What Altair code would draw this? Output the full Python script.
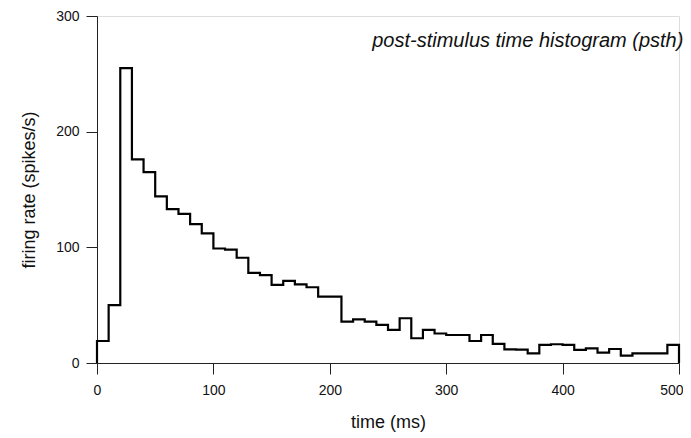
import altair as alt
import pandas as pd

# bin left edges (ms) and firing rates (spikes/s)
bin_start = [0, 10, 20, 30, 40, 50, 60, 70, 80, 90,
             100, 110, 120, 130, 140, 150, 160, 170, 180, 190,
             200, 210, 220, 230, 240, 250, 260, 270, 280, 290,
             300, 310, 320, 330, 340, 350, 360, 370, 380, 390,
             400, 410, 420, 430, 440, 450, 460, 470, 480, 490]
rate = [19, 50, 255, 176, 165, 144, 133, 129, 120, 112,
        99, 98, 91, 78, 76, 67.5, 71, 68, 65.5, 57.4,
        57.4, 35.8, 37.8, 35.8, 32.9, 28.6, 38.7, 21.4, 28.6, 25.5,
        24.2, 24.2, 19, 24.2, 16.5, 11.8, 11.5, 8.4, 15.6, 16.2,
        15.6, 11.3, 12.7, 8.9, 12.1, 6.3, 8.4, 8.4, 8.4, 15.6]
end_time = 500

x_ticks = [0, 100, 200, 300, 400, 500]
y_ticks = [0, 100, 200, 300]

# step outline: start at baseline, bins, close at the end
times = [bin_start[0]] + bin_start + [end_time, end_time]
values = [0] + rate + [rate[-1], 0]
df = pd.DataFrame({"t": times, "r": values, "o": list(range(len(times)))})

FONT = "Liberation Sans"

line = alt.Chart(df).mark_line(
    interpolate="step-after", color="#000000", strokeWidth=2.2
).encode(
    x=alt.X("t:Q", scale=alt.Scale(domain=[0, 500], nice=False),
            axis=alt.Axis(values=x_ticks, title="time (ms)", grid=False,
                          tickSize=11, labelPadding=9, labelFontSize=14,
                          labelFont=FONT, labelColor="#111111",
                          labelFlush=True, labelFlushOffset=4,
                          titleFont=FONT, titleFontSize=18, titleFontWeight="normal",
                          titleColor="#111111", titlePadding=16,
                          domainColor="#222222", tickColor="#222222")),
    y=alt.Y("r:Q", scale=alt.Scale(domain=[0, 300], nice=False),
            axis=alt.Axis(values=y_ticks, title="firing rate (spikes/s)", grid=False,
                          tickSize=11, labelPadding=7, labelFontSize=14,
                          labelFont=FONT, labelColor="#111111",
                          titleFont=FONT, titleFontSize=18, titleFontWeight="normal",
                          titleColor="#111111", titlePadding=17,
                          domainColor="#222222", tickColor="#222222")),
    order="o:Q",
)

chart = line.properties(
    width=582,
    height=347,
    autosize="none",
    padding={"left": 89, "top": 8, "right": 4, "bottom": 70},
    title=alt.TitleParams(
        text="post-stimulus time histogram (psth)",
        anchor="end", font=FONT, fontSize=20, fontStyle="italic",
        fontWeight="normal", color="#111111", dy=42, offset=0,
    ),
).configure_view(stroke=None).configure(background="white")

chart.save("out.html", embed_options={"renderer": "svg", "actions": False})
